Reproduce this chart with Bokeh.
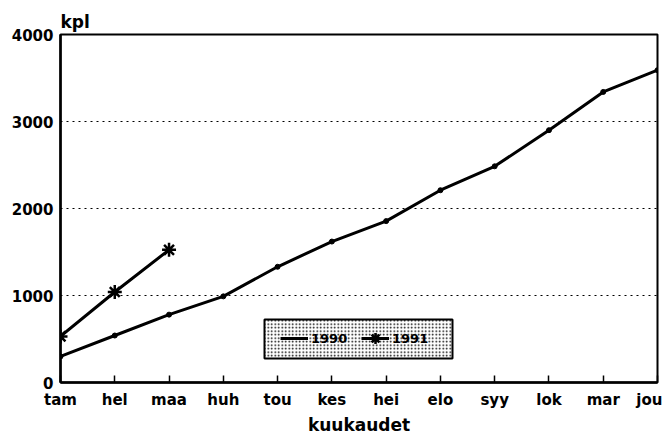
from bokeh.plotting import figure
from bokeh.models import Legend, LegendItem, FixedTicker, Range1d, BoxAnnotation
from bokeh.embed import file_html
from bokeh.resources import INLINE

months = ["tam", "hel", "maa", "huh", "tou", "kes", "hei", "elo", "syy", "lok", "mar", "jou"]
y1990 = [300, 540, 780, 990, 1330, 1620, 1855, 2210, 2485, 2900, 3340, 3590]
y1991 = [530, 1040, 1525]
y_ticks = [0, 1000, 2000, 3000, 4000]
series_names = ["1990", "1991"]

x_idx = list(range(len(months)))
FONT = "DejaVu Sans"

BL, BR, BT, BB = 60, 5, 34, 50
W, H = 662, 437

p = figure(width=W, height=H, output_backend="svg", toolbar_location=None,
           x_range=Range1d(0, len(months) - 1), y_range=Range1d(0, y_ticks[-1]),
           min_border_left=BL, min_border_right=BR, min_border_top=BT, min_border_bottom=BB,
           background_fill_color="white", border_fill_color="white")

p.title.text = "kpl"
p.title.align = "left"
p.title.text_font = FONT
p.title.text_font_size = "17px"
p.title.text_font_style = "bold"
p.title.text_color = "black"
p.title.offset = 0
p.title.standoff = 5

p.outline_line_color = "black"
p.outline_line_width = 2
p.outline_line_alpha = 1

# axes
p.xaxis.ticker = FixedTicker(ticks=x_idx)
p.xaxis.major_label_overrides = {i: m for i, m in enumerate(months)}
p.xaxis.major_tick_in = 7
p.xaxis.major_tick_out = 0
p.xaxis.major_tick_line_width = 1.5
p.xaxis.minor_tick_line_color = None
p.xaxis.axis_label = "kuukaudet"
p.xaxis.axis_label_standoff = 3
p.xaxis.major_label_standoff = 8

p.yaxis.ticker = FixedTicker(ticks=y_ticks)
p.yaxis.major_tick_in = 0
p.yaxis.major_tick_out = 0
p.yaxis.minor_tick_line_color = None
p.yaxis.major_label_standoff = 7

for ax in (p.xaxis, p.yaxis):
    ax.axis_line_width = 2.5
    ax.axis_line_color = "black"
    ax.major_tick_line_color = "black"
    ax.major_label_text_font = FONT
    ax.major_label_text_font_style = "bold"
    ax.major_label_text_color = "black"
    ax.axis_label_text_font = FONT
    ax.axis_label_text_font_style = "bold"
    ax.axis_label_text_color = "black"
p.xaxis.major_label_text_font_size = "15px"
p.yaxis.major_label_text_font_size = "15px"
p.xaxis.axis_label_text_font_size = "17px"

p.xgrid.visible = False
p.ygrid.ticker = FixedTicker(ticks=y_ticks)
p.ygrid.grid_line_color = "black"
p.ygrid.grid_line_dash = "dotted"
p.ygrid.grid_line_width = 1.2

# series
l90 = p.line(x_idx, y1990, line_color="black", line_width=3)
s90 = p.scatter(x_idx, y1990, marker="circle", size=5, fill_color="black", line_color="black")
x91 = x_idx[:len(y1991)]
l91 = p.line(x91, y1991, line_color="black", line_width=3)
s91 = p.scatter(x91, y1991, marker="asterisk", size=14, line_color="black", line_width=2.5)

# legend: stippled box behind a transparent legend
LX, LY, LW, LH = 204, 24, 188, 39
frame_bottom = H - 55
stipple = BoxAnnotation(left=BL + LX, right=BL + LX + LW,
                        top=frame_bottom - LY - LH, bottom=frame_bottom - LY,
                        left_units="canvas", right_units="canvas",
                        top_units="canvas", bottom_units="canvas",
                        fill_color="white", fill_alpha=1,
                        hatch_pattern="dot", hatch_color="black", hatch_scale=3.5,
                        hatch_weight=2, hatch_alpha=1,
                        line_color="black", line_width=2, line_alpha=1)
p.add_layout(stipple)

legend = Legend(items=[LegendItem(label=series_names[0], renderers=[l90]),
                       LegendItem(label=series_names[1], renderers=[l91, s91])],
                orientation="horizontal", location=(LX + 16, LY + 6),
                glyph_width=28, glyph_height=28, label_standoff=3, label_width=50,
                spacing=0, padding=12, margin=0,
                label_text_font=FONT, label_text_font_style="bold",
                label_text_font_size="13px", label_text_color="black",
                border_line_color=None,
                background_fill_alpha=0)
p.add_layout(legend)

open("out.html", "w").write(file_html(p, INLINE))
